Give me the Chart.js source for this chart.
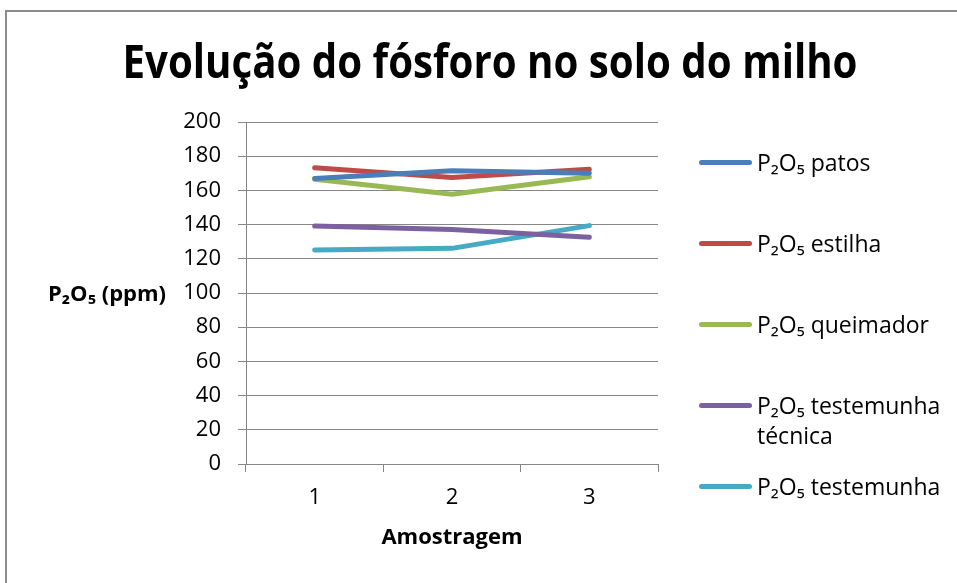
<!DOCTYPE html>
<html>
<head>
<meta charset="utf-8">
<script src="https://cdn.jsdelivr.net/npm/chart.js@4/dist/chart.umd.min.js"></script>
<style>
  html, body { margin: 0; padding: 0; background: #fff; }
  body { width: 957px; height: 583px; overflow: hidden; position: relative; font-family: "Open Sans", sans-serif; }
  #frame { position: absolute; left: 5px; top: 10px; width: 1000px; height: 1000px; border: 2px solid #8c8c8c; box-sizing: border-box; }
  #chart { position: absolute; left: 0; top: 0; }
  #legend { position: absolute; left: 699px; top: 147px; width: 255px; }
  .item { position: relative; height: 81px; }
  .swatch { position: absolute; left: 0; top: 13px; width: 53px; height: 5px; border-radius: 3px; }
  .label { position: absolute; left: 58px; top: 0; width: 196px; font-size: 23px; line-height: 30px; color: #000; }
</style>
</head>
<body>
<div id="frame"></div>
<canvas id="chart" width="957" height="583"></canvas>
<div id="legend"></div>
<script>
const amostras = ["1", "2", "3"];
const series = ["P₂O₅ patos", "P₂O₅ estilha", "P₂O₅ queimador", "P₂O₅ testemunha técnica", "P₂O₅ testemunha"];
const patos = [167, 171.5, 170];
const estilha = [173.3, 167.5, 172.3];
const queimador = [166.5, 157.7, 168];
const testemunhaTecnica = [139.2, 137.2, 132.6];
const testemunha = [125.1, 126.1, 139.4];
const colors = ["#4a7ebb", "#be4b48", "#98b954", "#7d60a0", "#46aac5"];

const values = [patos, estilha, queimador, testemunhaTecnica, testemunha];
const grey = "#868686";
const font = "'Open Sans', sans-serif";

// titles drawn by hand: the chart title is centred on the whole frame,
// and the y title is horizontal like in the original
const titles = {
  id: "titles",
  afterDraw(chart) {
    const y = chart.scales.y;
    const ctx = chart.ctx;
    ctx.save();
    ctx.fillStyle = "#000";
    ctx.textAlign = "center";
    ctx.textBaseline = "alphabetic";
    ctx.font = "bold 46px " + font;
    ctx.fillText("Evolução do fósforo no solo do milho", 490, 78, 735);
    ctx.textBaseline = "middle";
    ctx.font = "bold 22px " + font;
    ctx.fillText("P₂O₅ (ppm)", 107, (y.top + y.bottom) / 2 + 2);
    ctx.restore();
  }
};

const chart = new Chart(document.getElementById("chart"), {
  type: "line",
  data: {
    labels: amostras,
    datasets: series.map((name, i) => ({
      label: name,
      data: values[i],
      borderColor: colors[i],
      backgroundColor: colors[i],
      borderWidth: 5,
      borderCapStyle: "round",
      borderJoinStyle: "round",
      pointRadius: 0,
      tension: 0,
    })),
  },
  options: {
    responsive: false,
    animation: false,
    layout: { padding: { left: 0, right: 299, top: 122, bottom: 0 } },
    plugins: {
      legend: { display: false },
      tooltip: { enabled: false },
      title: { display: false },
    },
    scales: {
      x: {
        offset: true,
        grid: { offset: true, drawOnChartArea: false, drawTicks: true, tickLength: 8, color: grey },
        border: { color: grey, width: 1 },
        ticks: { color: "#000", font: { family: font, size: 22 }, padding: 13 },
        title: { display: true, text: "Amostragem", color: "#000", font: { family: font, weight: "bold", size: 22 }, padding: { top: 0, bottom: 32 } },
        afterFit: (s) => { s.height = 119; },
      },
      y: {
        min: 0,
        max: 200,
        ticks: { stepSize: 20, color: "#000", font: { family: font, size: 22 }, padding: 17 },
        grid: { color: grey, tickLength: 8 },
        border: { color: grey, width: 1 },
        afterFit: (s) => { s.width = 246; },
      },
    },
  },
  plugins: [titles],
});

const legend = document.getElementById("legend");
chart.data.datasets.forEach((ds) => {
  const item = document.createElement("div");
  item.className = "item";
  item.innerHTML = '<div class="swatch" style="background:' + ds.borderColor + '"></div><div class="label">' + ds.label + "</div>";
  legend.appendChild(item);
});
</script>
</body>
</html>
